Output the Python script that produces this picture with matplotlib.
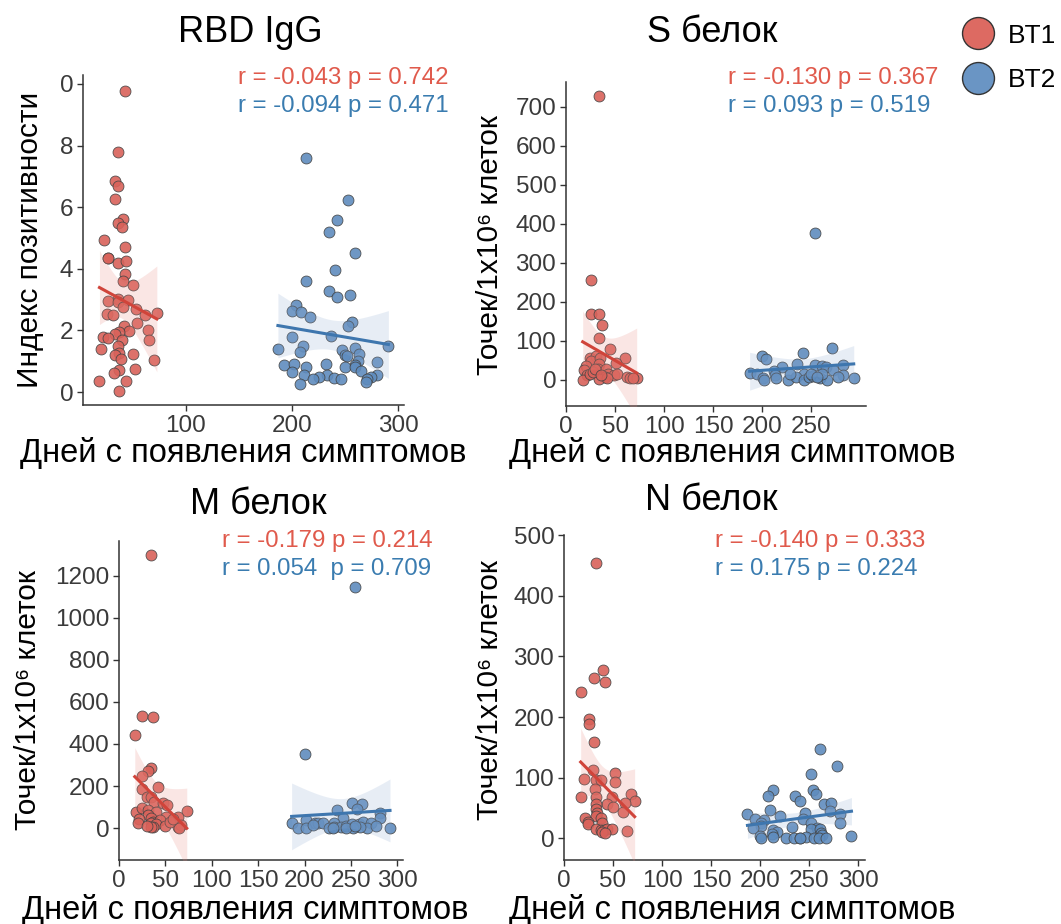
import numpy as np
import matplotlib
matplotlib.use('Agg')
import matplotlib.pyplot as plt
from matplotlib.lines import Line2D

plt.rcParams['font.family'] = ['Liberation Sans', 'DejaVu Sans']

# ---- data (days since symptom onset, value) ----
rbd_bt1_days = [43, 36, 34, 36, 34, 41, 36, 40, 23, 43, 27, 27, 36, 44, 43, 41, 51, 36, 27, 36,
                46, 41, 53, 26, 32, 62, 73, 54, 42, 47, 65, 37, 34, 22, 27, 40, 66, 36, 20, 37,
                34, 51, 39, 70, 52, 37, 33, 19, 44, 37]
rbd_bt1_vals = [9.78, 7.80, 6.86, 6.70, 6.28, 5.61, 5.49, 5.36, 4.94, 4.70, 4.34, 4.34, 4.18, 4.25,
                3.82, 3.62, 3.46, 3.03, 2.96, 2.93, 2.98, 2.75, 2.68, 2.52, 2.49, 2.49, 2.55, 2.23,
                2.15, 1.98, 2.00, 1.95, 1.87, 1.79, 1.74, 1.68, 1.70, 1.48, 1.41, 1.28, 1.21, 1.25,
                1.08, 1.04, 0.75, 0.73, 0.62, 0.37, 0.36, 0.03]
rbd_bt2_days = [213, 253, 243, 235, 260, 241, 213, 235, 243, 255, 204, 200, 209, 217, 257, 253, 237,
                200, 291, 211, 187, 247, 260, 208, 263, 250, 252, 193, 202, 232, 262, 260, 213, 250,
                260, 280, 265, 200, 212, 233, 226, 220, 240, 246, 280, 275, 271, 270, 208]
rbd_bt2_vals = [7.59, 6.22, 5.59, 5.20, 4.52, 3.95, 3.59, 3.29, 3.07, 3.14, 2.84, 2.63, 2.60, 2.44,
                2.26, 2.15, 1.82, 1.79, 1.50, 1.50, 1.41, 1.38, 1.44, 1.31, 1.25, 1.20, 1.17, 0.88,
                0.92, 0.92, 1.01, 0.87, 0.81, 0.81, 0.81, 0.96, 0.68, 0.65, 0.56, 0.56, 0.49, 0.43,
                0.47, 0.44, 0.54, 0.49, 0.43, 0.33, 0.26]

s_bt1_days = [34, 25, 25, 34, 37, 34, 45, 60, 24, 31, 25, 35, 51, 20, 18, 21, 17, 24, 34, 33,
              41, 43, 49, 52, 40, 34, 62, 65, 72, 68, 42, 27, 30, 36]
s_bt1_vals = [727, 256, 168, 169, 141, 106, 79, 55, 56, 61, 47, 56, 44, 35, 24, 12, 0, 14, 40, 28,
              28, 15, 11, 15, 7, 1, 7, 3, 3, 3, 3, 20, 28, 11]
s_bt2_days = [254, 271, 241, 200, 204, 235, 254, 261, 265, 282, 220, 212, 187, 194, 242, 272, 282,
              277, 293, 201, 202, 213, 226, 234, 242, 247, 252, 259, 266, 261, 250, 228, 256, 214]
s_bt2_vals = [376, 80, 68, 61, 52, 40, 37, 36, 33, 37, 32, 23, 16, 15, 15, 24, 12, 7, 3, 3, 0, 11,
              0, 7, 0, 7, 9, 3, 0, 15, 15, 15, 7, 3]

m_bt1_days = [34, 25, 37, 17, 34, 31, 25, 42, 25, 30, 34, 38, 47, 52, 18, 25, 31, 40, 73, 31,
              51, 64, 22, 20, 34, 37, 44, 34, 40, 50, 64, 67, 65, 37, 34, 30, 55, 58]
m_bt1_vals = [1300, 534, 529, 444, 284, 273, 250, 195, 187, 149, 149, 125, 117, 109, 75, 94, 86,
              78, 79, 62, 54, 54, 43, 22, 49, 30, 38, 22, 17, 10, 6, 14, 0, 6, 3, 10, 30, 41]
m_bt2_days = [254, 200, 251, 262, 235, 256, 281, 281, 241, 186, 201, 211, 214, 220, 193, 202, 209,
              232, 226, 232, 239, 245, 251, 259, 263, 272, 267, 277, 292, 260, 252, 245, 231, 254]
m_bt2_vals = [1146, 352, 120, 114, 86, 90, 73, 46, 49, 25, 38, 25, 22, 25, 0, 0, 14, 25, 0, 6, 6,
              10, 19, 19, 30, 25, 0, 10, 0, 3, 0, 0, 0, 10]

n_bt1_days = [33, 40, 31, 42, 17, 25, 25, 31, 30, 20, 33, 38, 52, 52, 32, 17, 33, 49, 68, 72,
              62, 44, 33, 50, 33, 60, 34, 33, 38, 21, 24, 24, 39, 33, 38, 41, 44, 49, 64, 39, 42]
n_bt1_vals = [454, 277, 265, 258, 242, 196, 188, 159, 112, 98, 96, 96, 107, 93, 82, 68, 68, 68, 73,
              62, 59, 57, 57, 51, 49, 43, 41, 37, 34, 33, 27, 23, 26, 15, 14, 13, 16, 15, 12, 10, 9]
n_bt2_days = [261, 278, 252, 254, 257, 213, 208, 235, 241, 265, 272, 271, 210, 246, 187, 281, 220,
              244, 195, 204, 252, 281, 201, 201, 193, 232, 258, 252, 261, 213, 217, 212, 262, 263,
              200, 201, 213, 226, 234, 241, 247, 255, 260, 267, 293, 241]
n_bt2_vals = [148, 120, 106, 79, 73, 79, 69, 70, 62, 57, 59, 45, 46, 42, 40, 40, 37, 32, 32, 30,
              25, 26, 26, 21, 17, 18, 17, 16, 15, 13, 10, 7, 8, 5, 4, 1, 3, 0, 1, 0, 2, 0, 0, 0, 4, 0]

titles = ['RBD IgG', 'S белок', 'M белок', 'N белок']
stats_bt1 = ['r = -0.043 p = 0.742', 'r = -0.130 p = 0.367', 'r = -0.179 p = 0.214', 'r = -0.140 p = 0.333']
stats_bt2 = ['r = -0.094 p = 0.471', 'r = 0.093 p = 0.519', 'r = 0.054  p = 0.709', 'r = 0.175 p = 0.224']
xlabel = 'Дней с появления симптомов'
ylabels = ['Индекс позитивности', 'Точек/1x10⁶ клеток', 'Точек/1x10⁶ клеток', 'Точек/1x10⁶ клеток']
groups = ['BT1', 'BT2']

# ---- styling ----
RED = '#D9625A'
BLUE = '#5F8CBE'
RED_LINE = '#D0443A'
BLUE_LINE = '#3E76AE'
RED_TXT = '#E05A4C'
BLUE_TXT = '#3A7CB0'
AX_COL = '#333333'

W, H = 1061, 924
fig = plt.figure(figsize=(W / 100, H / 100), dpi=100)

def px_axes(l, t, r, b):
    return fig.add_axes([l / W, 1 - b / H, (r - l) / W, (b - t) / H])

panels = [
    dict(box=(83, 75, 404, 405), xlim=(3.5, 305.7), ylim=(-0.42, 10.29),
         xticks=[100, 200, 300], yticks=[0, 2, 4, 6, 8, 10], yticklabels=['0', '2', '4', '6', '8', '0'],
         data=(rbd_bt1_days, rbd_bt1_vals, rbd_bt2_days, rbd_bt2_vals),
         title=(250, 33), stat=(238, 78), xl=(243, 453), yl=(30, 240)),
    dict(box=(566, 82, 866, 406), xlim=(0, 305.5), ylim=(-67.6, 764),
         xticks=[0, 50, 100, 150, 200, 250], yticks=list(range(0, 800, 100)), yticklabels=None,
         data=(s_bt1_days, s_bt1_vals, s_bt2_days, s_bt2_vals),
         title=(712, 33), stat=(728, 78), xl=(732, 453), yl=(490, 245)),
    dict(box=(119, 541, 403, 860), xlim=(0, 306), ylim=(-152, 1366),
         xticks=[0, 50, 100, 150, 200, 250, 300], yticks=list(range(0, 1400, 200)), yticklabels=None,
         data=(m_bt1_days, m_bt1_vals, m_bt2_days, m_bt2_vals),
         title=(258, 505), stat=(222, 541), xl=(245, 910), yl=(28, 700)),
    dict(box=(564, 535, 865, 860), xlim=(0, 306.8), ylim=(-35.7, 500),
         xticks=[0, 50, 100, 150, 200, 250, 300], yticks=list(range(0, 600, 100)), yticklabels=None,
         data=(n_bt1_days, n_bt1_vals, n_bt2_days, n_bt2_vals),
         title=(711, 500), stat=(715, 541), xl=(732, 910), yl=(490, 690)),
]


def fit_band(ax, x, y, line_col, band_col):
    x = np.asarray(x, float)
    y = np.asarray(y, float)
    n = len(x)
    b1, b0 = np.polyfit(x, y, 1)
    xs = np.linspace(x.min(), x.max(), 100)
    yhat = b0 + b1 * xs
    resid = y - (b0 + b1 * x)
    s = np.sqrt(np.sum(resid ** 2) / (n - 2))
    sxx = np.sum((x - x.mean()) ** 2)
    se = s * np.sqrt(1 / n + (xs - x.mean()) ** 2 / sxx)
    ax.fill_between(xs, yhat - 2.01 * se, yhat + 2.01 * se, color=band_col, alpha=0.2, lw=0, zorder=3)
    ax.plot(xs, yhat, color=line_col, lw=2.2, zorder=4)


for i, p in enumerate(panels):
    ax = px_axes(*p['box'])
    d1x, d1y, d2x, d2y = p['data']
    ax.scatter(d1x, d1y, s=62, color=RED, edgecolor='#444444', linewidth=0.6, alpha=0.9, zorder=2)
    ax.scatter(d2x, d2y, s=62, color=BLUE, edgecolor='#444444', linewidth=0.6, alpha=0.9, zorder=2)
    fit_band(ax, d1x, d1y, RED_LINE, '#E8847C')
    fit_band(ax, d2x, d2y, BLUE_LINE, '#8AA8D0')

    ax.set_xlim(p['xlim'])
    ax.set_ylim(p['ylim'])
    ax.set_xticks(p['xticks'])
    ax.set_yticks(p['yticks'])
    if p['yticklabels'] is not None:
        ax.set_yticklabels(p['yticklabels'])
    for side in ['top', 'right']:
        ax.spines[side].set_visible(False)
    for side in ['left', 'bottom']:
        ax.spines[side].set_color(AX_COL)
        ax.spines[side].set_linewidth(1.1)
    ax.tick_params(colors=AX_COL, labelcolor='#3a3a3a', labelsize=17.5, length=4, width=1.0, pad=3)

    fig.text(p['title'][0] / W, 1 - p['title'][1] / H, titles[i], fontsize=26,
             ha='center', va='center', color='black')
    fig.text(p['stat'][0] / W, 1 - p['stat'][1] / H, stats_bt1[i], fontsize=17.3,
             ha='left', va='center', color=RED_TXT)
    fig.text(p['stat'][0] / W, 1 - (p['stat'][1] + 28) / H, stats_bt2[i], fontsize=17.3,
             ha='left', va='center', color=BLUE_TXT)
    fig.text(p['xl'][0] / W, 1 - p['xl'][1] / H, xlabel, fontsize=23.5,
             ha='center', va='center', color='black')
    fig.text(p['yl'][0] / W, 1 - p['yl'][1] / H, ylabels[i], fontsize=21.5,
             ha='center', va='center', rotation=90, color='black')

handles = [Line2D([], [], marker='o', ls='', markersize=23, markerfacecolor=c,
                  markeredgecolor='#333333', markeredgewidth=1.0)
           for c in ['#DD6A62', '#6A95C4']]
fig.legend(handles, groups, loc='center left', bbox_to_anchor=(949 / W, 1 - 58 / H),
           frameon=False, fontsize=19, labelspacing=0.78, handletextpad=0.54, borderpad=0,
           handlelength=1.2)

fig.savefig('out.png', dpi=100)
